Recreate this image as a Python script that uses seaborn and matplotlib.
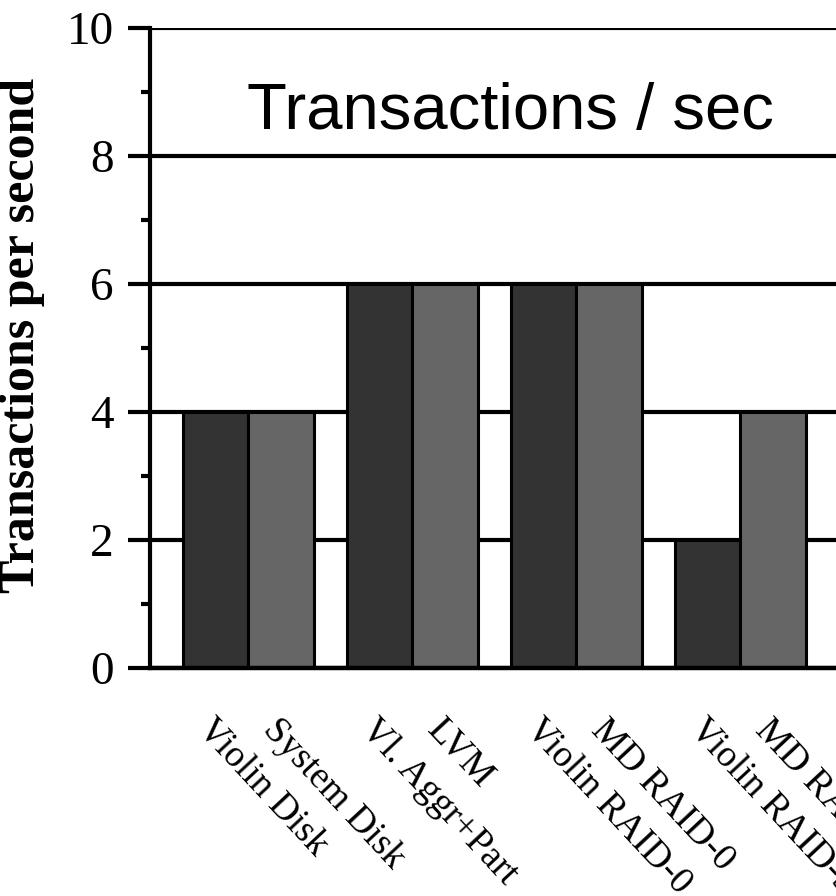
import matplotlib
matplotlib.use("Agg")
import matplotlib.pyplot as plt
import seaborn as sns
import pandas as pd
from matplotlib.ticker import MultipleLocator

# ---- data ----
groups = ["Disk", "Aggregation", "RAID-0", "RAID-5"]
series = ["Violin", "Baseline"]
violin_labels = ["Violin Disk", "Vl. Aggr+Part", "Violin RAID-0", "Violin RAID-5"]
baseline_labels = ["System Disk", "LVM", "MD RAID-0", "MD RAID-5"]
violin_tps = [4, 6, 6, 2]
baseline_tps = [4, 6, 6, 4]
y_ticks = [0, 2, 4, 6, 8, 10]
title_text = "Transactions / sec"
y_label = "Transactions per second"

rows = []
for g, v, b in zip(groups, violin_tps, baseline_tps):
    rows.append({"group": g, "series": series[0], "tps": v})
    rows.append({"group": g, "series": series[1], "tps": b})
df = pd.DataFrame(rows)

sns.set_theme(style="white")
plt.rcParams["font.family"] = ["Liberation Serif", "DejaVu Serif"]
plt.rcParams["text.color"] = "black"
plt.rcParams["axes.labelcolor"] = "black"
plt.rcParams["xtick.color"] = "black"
plt.rcParams["ytick.color"] = "black"

W, H = 837, 896
fig = plt.figure(figsize=(W / 100, H / 100), dpi=100)
# axes extends beyond right edge of figure (reference is cropped)
ax = fig.add_axes([150 / W, (H - 668) / H, 820 / W, 640 / H])

sns.barplot(data=df, x="group", y="tps", hue="series", order=groups,
            hue_order=series, palette=["#333333", "#666666"], width=0.8,
            edgecolor="black", linewidth=2.2, saturation=1, legend=False,
            errorbar=None, ax=ax)

ax.set_axisbelow(True)
ax.set_xlim(-0.6, 4.4)
ax.set_ylim(0, 10)
ax.set_yticks(y_ticks)
ax.yaxis.set_minor_locator(MultipleLocator(1))
ax.grid(axis="y", which="major", color="black", linewidth=3)
ax.grid(axis="x", visible=False)

for s in ["top", "right"]:
    ax.spines[s].set_visible(False)
ax.spines["left"].set_linewidth(3)
ax.spines["bottom"].set_linewidth(3.2)
ax.spines["left"].set_color("black")
ax.spines["bottom"].set_color("black")

ax.tick_params(axis="y", which="major", direction="out", length=16, width=3,
               color="black", pad=10, labelsize=34, left=True,
               labelcolor="black")
ax.tick_params(axis="y", which="minor", direction="out", length=6.5, width=3,
               color="black", left=True)

# per-bar x tick labels at bar centers
bars = sorted(ax.patches, key=lambda p: p.get_x())
centers = [p.get_x() + p.get_width() / 2 for p in bars]
bar_labels = []
for a, b in zip(violin_labels, baseline_labels):
    bar_labels += [a, b]
ax.set_xticks(centers)
ax.set_xticklabels(bar_labels, rotation=-47, ha="left", va="top",
                   rotation_mode="anchor", fontsize=27, color="black")
ax.tick_params(axis="x", length=0, pad=32)

ax.set_xlabel("")
ax.set_ylabel(y_label, fontsize=36, fontweight="bold", color="black")
ax.yaxis.set_label_coords(45 / W, (H - 335) / H, transform=fig.transFigure)

ax.text((510 - 150) / 820, (668 - 129) / 640, title_text,
        transform=ax.transAxes, ha="center", va="baseline", color="black",
        fontsize=47, family=["Liberation Sans", "DejaVu Sans"])

fig.savefig("out.png", dpi=100)
